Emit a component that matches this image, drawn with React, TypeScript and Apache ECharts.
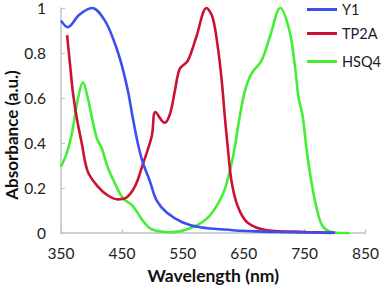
import React, { useEffect, useRef } from "react";
import * as echarts from "echarts";

const seriesNames = ["Y1", "TP2A", "HSQ4"];
const seriesColors = ["#3b4ff0", "#cc1133", "#44ee33"];

const y1Wavelength = [350, 361, 380, 401, 422, 438, 450, 460, 468, 476, 484, 496, 507, 524, 550, 578, 632, 660, 700, 750, 800];
const y1Absorbance = [0.944, 0.915, 0.97, 1.0, 0.944, 0.846, 0.744, 0.63, 0.51, 0.4, 0.316, 0.23, 0.145, 0.09, 0.047, 0.026, 0.013, 0.009, 0.005, 0.003, 0.002];

const tp2aWavelength = [360, 365, 370, 376, 384, 394, 411, 427, 443, 455, 471, 484, 499, 505, 520, 529, 537, 545, 558, 572, 589, 599, 608, 614, 619, 624, 630, 640, 656, 688, 753, 796];
const tp2aAbsorbance = [0.88, 0.744, 0.615, 0.51, 0.4, 0.273, 0.205, 0.167, 0.15, 0.154, 0.205, 0.303, 0.43, 0.538, 0.49, 0.53, 0.632, 0.73, 0.765, 0.87, 1.0, 0.957, 0.816, 0.675, 0.517, 0.376, 0.23, 0.12, 0.047, 0.013, 0.005, 0.0];

const hsq4Wavelength = [350, 360, 368, 378, 386, 394, 401, 409, 417, 427, 439, 452, 468, 483, 499, 529, 566, 594, 616, 627, 635, 643, 652, 663, 679, 693, 710, 725, 734, 740, 747, 753, 761, 769, 779, 796, 824];
const hsq4Absorbance = [0.295, 0.36, 0.444, 0.6, 0.67, 0.6, 0.51, 0.42, 0.376, 0.29, 0.218, 0.154, 0.12, 0.06, 0.017, 0.004, 0.026, 0.077, 0.175, 0.274, 0.376, 0.51, 0.632, 0.71, 0.765, 0.872, 1.0, 0.9, 0.744, 0.603, 0.517, 0.376, 0.23, 0.12, 0.034, 0.004, 0.0];

const xTicks = { min: 350, max: 850, interval: 100 };
const yTicks = { min: 0, max: 1, interval: 0.2 };

const legendTops = [2, 26, 54];

function zip(xs: number[], ys: number[]) {
  return xs.map((x, i) => [x, ys[i]]);
}

export default function App() {
  const ref = useRef<HTMLDivElement>(null);
  useEffect(() => {
    if (!ref.current) return;
    const chart = echarts.init(ref.current, undefined, { renderer: "svg" });
    const datasets = [
      zip(y1Wavelength, y1Absorbance),
      zip(tp2aWavelength, tp2aAbsorbance),
      zip(hsq4Wavelength, hsq4Absorbance),
    ];
    const axisColor = "#b9c3ca";
    const font = "Lato, 'Open Sans', sans-serif";
    chart.setOption({
      animation: false,
      grid: { left: 61, right: 16, top: 7, bottom: 48, containLabel: false },
      legend: seriesNames.map((n, i) => ({
        data: [n],
        left: 307,
        top: legendTops[i],
        padding: 0,
        icon: "rect",
        itemWidth: 30,
        itemHeight: 3,
        itemGap: 5,
        textStyle: { fontFamily: font, fontSize: 14.5, color: "#1a1a2a" },
      })),
      graphic: [
        {
          type: "text",
          x: 11,
          y: 135,
          rotation: Math.PI / 2,
          style: {
            text: "Absorbance (a.u.)",
            fontFamily: font,
            fontSize: 17,
            fontWeight: "bold",
            fill: "#111",
            textAlign: "center",
            textVerticalAlign: "middle",
          },
        },
      ],
      xAxis: {
        type: "value",
        min: xTicks.min,
        max: xTicks.max,
        interval: xTicks.interval,
        name: "Wavelength (nm)",
        nameLocation: "middle",
        nameGap: 28,
        nameTextStyle: { fontFamily: font, fontSize: 17.5, fontWeight: "bold", color: "#111" },
        axisLine: { lineStyle: { color: axisColor, width: 1.5 } },
        axisTick: { inside: true, length: 4, lineStyle: { color: axisColor, width: 1 } },
        axisLabel: { fontFamily: font, fontSize: 15.5, color: "#222", margin: 12 },
        splitLine: { show: false },
      },
      yAxis: {
        type: "value",
        min: yTicks.min,
        max: yTicks.max,
        interval: yTicks.interval,
        axisLine: { show: true, lineStyle: { color: axisColor, width: 1.5 } },
        axisTick: { show: true, inside: true, length: 4, lineStyle: { color: axisColor, width: 1 } },
        axisLabel: { fontFamily: font, fontSize: 15.5, color: "#222", margin: 15 },
        splitLine: { show: false },
      },
      series: seriesNames.map((n, i) => ({
        name: n,
        type: "line",
        data: datasets[i],
        smooth: 0.35,
        showSymbol: false,
        symbol: "none",
        lineStyle: { color: seriesColors[i], width: 2.6 },
        itemStyle: { color: seriesColors[i] },
        z: 3 - i,
      })),
    });
    return () => chart.dispose();
  }, []);
  return <div ref={ref} style={{ width: 382, height: 289, position: "absolute", left: 0, top: 0 }} />;
}
